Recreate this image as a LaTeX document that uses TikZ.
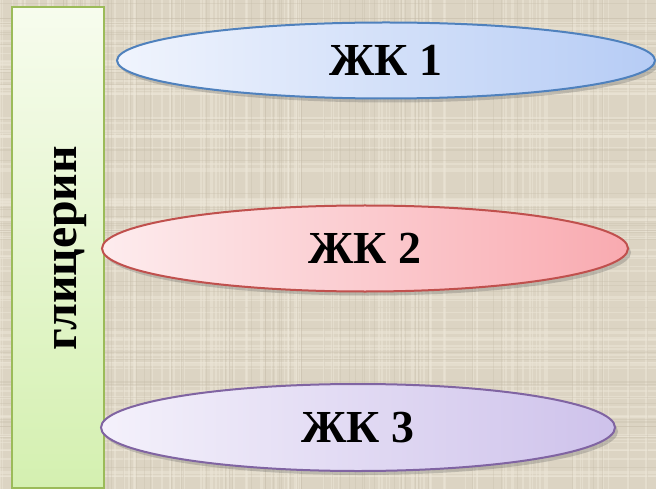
\documentclass[tikz,border=0pt]{standalone}
\usepackage{fontspec}
\setmainfont{Liberation Serif}
\usetikzlibrary{shapes.geometric,shadows}
\definecolor{bgbase}{RGB}{220,212,195}
\definecolor{bglight}{RGB}{238,232,218}
\definecolor{bgdark}{RGB}{196,186,168}
\definecolor{glyctop}{RGB}{247,252,238}
\definecolor{glycbot}{RGB}{212,240,176}
\definecolor{glycborder}{RGB}{155,187,89}
\definecolor{bluel}{RGB}{240,244,253}
\definecolor{bluer}{RGB}{182,204,245}
\definecolor{blueb}{RGB}{79,129,189}
\definecolor{redl}{RGB}{253,236,238}
\definecolor{redr}{RGB}{249,170,176}
\definecolor{redb}{RGB}{192,80,77}
\definecolor{purl}{RGB}{244,241,251}
\definecolor{purr}{RGB}{206,194,235}
\definecolor{purb}{RGB}{128,100,162}
\tikzset{
  acid/.style={ellipse, draw, line width=2bp, inner sep=0pt,
    font=\fontsize{46}{50}\selectfont\bfseries, text=black,
    drop shadow={shadow xshift=3bp, shadow yshift=-4bp, opacity=0.3, fill=black!60}},
  glycbox/.style={rectangle, draw=glycborder, line width=1.8bp, inner sep=0pt,
    top color=glyctop, bottom color=glycbot},
  glyctext/.style={rotate=90, font=\fontsize{48}{52}\selectfont\bfseries, text=black, inner sep=0pt}
}
\begin{document}
\begin{tikzpicture}[x=1bp,y=-1bp]
  \useasboundingbox (0,0) rectangle (656,489);
  \fill[bgbase] (0,0) rectangle (656,489);
  \pgfmathsetseed{7}
  \foreach \i in {1,...,110}{
    \pgfmathsetmacro{\xx}{rnd*656}
    \pgfmathsetmacro{\ww}{0.6+rnd*2}
    \draw[bglight, opacity=0.45, line width=\ww bp] (\xx,0) -- (\xx,489);
  }
  \foreach \i in {1,...,90}{
    \pgfmathsetmacro{\yy}{rnd*489}
    \pgfmathsetmacro{\ww}{0.6+rnd*2}
    \draw[bglight, opacity=0.45, line width=\ww bp] (0,\yy) -- (656,\yy);
  }
  \foreach \i in {1,...,60}{
    \pgfmathsetmacro{\xx}{rnd*656}
    \draw[bgdark, opacity=0.3, line width=0.8bp] (\xx,0) -- (\xx,489);
  }
  \foreach \i in {1,...,50}{
    \pgfmathsetmacro{\yy}{rnd*489}
    \draw[bgdark, opacity=0.3, line width=0.8bp] (0,\yy) -- (656,\yy);
  }

  \node[glycbox, minimum width=92bp, minimum height=481bp] (glyc) at (58,247.5) {};
  \node[glyctext] (glyclabel) at (70,248) {глицерин};

  \node[acid, draw=blueb, left color=bluel, right color=bluer,
        minimum width=538bp, minimum height=76bp] (zk1) at (386,60.5) {ЖК 1};
  \node[acid, draw=redb, left color=redl, right color=redr,
        minimum width=526bp, minimum height=86bp] (zk2) at (365,248.5) {ЖК 2};
  \node[acid, draw=purb, left color=purl, right color=purr,
        minimum width=514bp, minimum height=87bp] (zk3) at (358,427.5) {ЖК 3};
\end{tikzpicture}
\end{document}
